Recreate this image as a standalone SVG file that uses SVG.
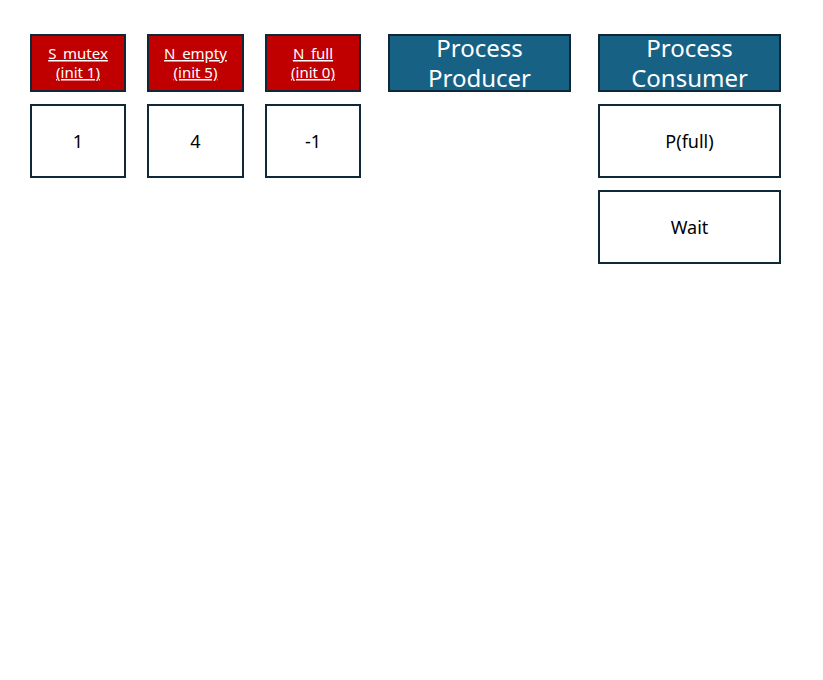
<svg xmlns="http://www.w3.org/2000/svg" width="823" height="680" viewBox="0 0 823 680">
<style>
.box{stroke:#0f2837;stroke-width:2}
.red{fill:#c00000}
.blue{fill:#176185}
.white{fill:#ffffff}
.lbl{font-family:"Noto Sans","Open Sans",sans-serif;fill:#ffffff;text-anchor:middle;font-size:15px;text-decoration:underline}
.big{font-family:"Noto Sans","Open Sans",sans-serif;fill:#ffffff;text-anchor:middle;font-size:24px}
.val{font-family:"Noto Sans","Open Sans",sans-serif;fill:#000000;text-anchor:middle;font-size:18px}
</style>
<rect width="823" height="680" fill="#ffffff"/>
<g id="s_mutex"><rect class="box red" x="31" y="35" width="94" height="56"/><text class="lbl" x="78" y="59">S_mutex</text><text class="lbl" x="78" y="78">(init 1)</text></g>
<g id="n_empty"><rect class="box red" x="148" y="35" width="95" height="56"/><text class="lbl" x="195.5" y="59">N_empty</text><text class="lbl" x="195.5" y="78">(init 5)</text></g>
<g id="n_full"><rect class="box red" x="266" y="35" width="94" height="56"/><text class="lbl" x="313" y="59">N_full</text><text class="lbl" x="313" y="78">(init 0)</text></g>
<g id="producer"><rect class="box blue" x="389" y="35" width="181" height="56"/><text class="big" x="479.5" y="57">Process</text><text class="big" x="479.5" y="87">Producer</text></g>
<g id="consumer"><rect class="box blue" x="599" y="35" width="181" height="56"/><text class="big" x="689.5" y="57">Process</text><text class="big" x="689.5" y="87">Consumer</text></g>
<g id="v_mutex"><rect class="box white" x="31" y="105" width="94" height="72"/><text class="val" x="78" y="148">1</text></g>
<g id="v_empty"><rect class="box white" x="148" y="105" width="95" height="72"/><text class="val" x="195.5" y="148">4</text></g>
<g id="v_full"><rect class="box white" x="266" y="105" width="94" height="72"/><text class="val" x="313" y="148">-1</text></g>
<g id="c_pfull"><rect class="box white" x="599" y="105" width="181" height="72"/><text class="val" x="689.5" y="148">P(full)</text></g>
<g id="c_wait"><rect class="box white" x="599" y="191" width="181" height="72"/><text class="val" x="689.5" y="234">Wait</text></g>
<g id="connectors"/>
</svg>
